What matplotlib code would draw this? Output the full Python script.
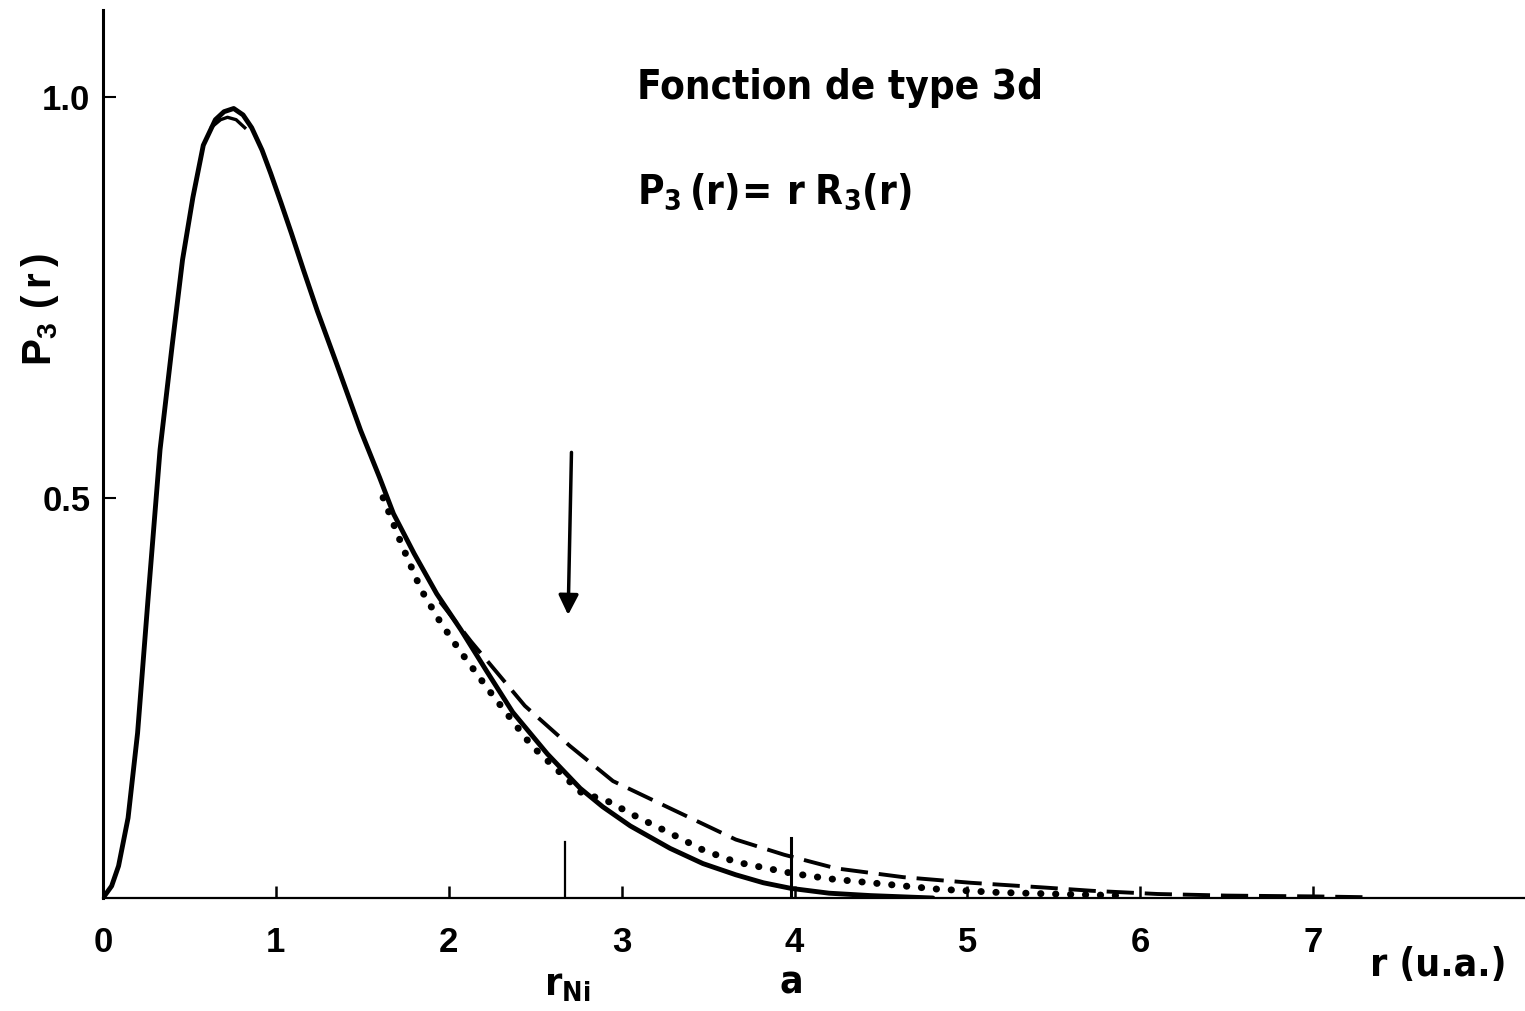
#radial function P3(r) = r R3(r) for a 3d orbital
import numpy as np
import matplotlib
matplotlib.use("Agg")
import matplotlib.pyplot as plt

#data
r_solid = [0, 0.05, 0.09, 0.145, 0.20, 0.26, 0.33, 0.40, 0.46, 0.52, 0.58, 0.65, 0.70,
           0.756, 0.81, 0.86, 0.92, 0.97, 1.03, 1.09, 1.16, 1.24, 1.35, 1.49, 1.60, 1.68,
           1.80, 1.93, 2.07, 2.22, 2.37, 2.57, 2.76, 2.89, 3.05, 3.28, 3.47, 3.66, 3.82,
           3.98, 4.2, 4.44, 4.8]
p_solid = [0, 0.015, 0.04, 0.10, 0.206, 0.372, 0.56, 0.69, 0.797, 0.875, 0.94, 0.972, 0.982,
           0.986, 0.978, 0.962, 0.934, 0.905, 0.868, 0.830, 0.784, 0.733, 0.668, 0.584, 0.525, 0.48,
           0.43, 0.38, 0.335, 0.283, 0.232, 0.180, 0.137, 0.114, 0.09, 0.062, 0.043, 0.029, 0.019,
           0.012, 0.006, 0.003, 0.0]

r_dot = [1.62, 1.73, 1.84, 1.95, 2.06, 2.23, 2.48, 2.77, 2.91, 3.10, 3.28, 3.47, 3.66, 3.98,
         4.2, 4.44, 4.83, 5.17, 5.5, 5.9]
p_dot = [0.50, 0.44, 0.385, 0.345, 0.31, 0.26, 0.19, 0.131, 0.122, 0.10, 0.081, 0.06, 0.045,
         0.031, 0.024, 0.019, 0.011, 0.007, 0.005, 0.003]

r_dash_top = [0.63, 0.68, 0.72, 0.77, 0.82]
p_dash_top = [0.963, 0.972, 0.975, 0.972, 0.962]
r_dash = [1.95, 2.13, 2.44, 2.70, 2.95, 3.28, 3.66, 3.94, 4.24, 4.63, 5.02, 5.45, 5.72, 6.1,
          6.5, 7.0, 7.3]
p_dash = [0.37, 0.32, 0.24, 0.19, 0.146, 0.112, 0.073, 0.054, 0.037, 0.026, 0.019, 0.013,
          0.009, 0.005, 0.003, 0.002, 0.001]

r_ni = 2.67
a_val = 3.98
x_ticks = [0, 1, 2, 3, 4, 5, 6, 7]
y_ticks = [0.5, 1.0]
y_ticklabels = ["0.5", "1.0"]

plt.rcParams["mathtext.fontset"] = "custom"
plt.rcParams["mathtext.rm"] = "DejaVu Sans:bold:stretch=condensed"
plt.rcParams["mathtext.bf"] = "DejaVu Sans:bold:stretch=condensed"
plt.rcParams["mathtext.sf"] = "Liberation Sans:bold"
narrow = ["DejaVu Sans"]
sans = ["Liberation Sans", "DejaVu Sans"]

fig = plt.figure(figsize=(15.25, 10.11), dpi=100)
ax = fig.add_axes([103/1525, 113/1011, 1-103/1525, 888/1011])
ax.set_xlim(0, 8.225)
ax.set_ylim(0, 1.109)

#curves
ax.plot(r_solid, p_solid, color="k", lw=3.5, solid_capstyle="round", solid_joinstyle="round")
ax.plot(r_dot, p_dot, color="k", lw=5.0, linestyle=(0, (0.05, 2.1)), dash_capstyle="round")
ax.plot(r_dash_top, p_dash_top, color="k", lw=2.4)
ax.plot(r_dash, p_dash, color="k", lw=2.8, linestyle=(0, (7.0, 2.8)))

#markers for r_Ni and a
ax.plot([r_ni, r_ni], [0, 0.07], color="k", lw=1.6)
ax.plot([a_val, a_val], [0, 0.075], color="k", lw=2.2)
ax.annotate("", xy=(2.69, 0.35), xytext=(2.71, 0.56),
            arrowprops=dict(arrowstyle="-|>", lw=2.5, color="k", mutation_scale=30))

#axes style
for s in ["top", "right"]:
    ax.spines[s].set_visible(False)
ax.spines["left"].set_linewidth(2.2)
ax.spines["bottom"].set_linewidth(1.6)
ax.set_xticks(x_ticks)
ax.set_xticklabels([str(v) for v in x_ticks], fontsize=25, fontweight="bold", family=sans)
ax.set_yticks(y_ticks)
ax.set_yticklabels(y_ticklabels, fontsize=25, fontweight="bold", family=sans)
ax.tick_params(axis="x", direction="in", length=9, width=1.8, pad=20)
ax.tick_params(axis="y", direction="in", length=9, width=1.5, pad=9)

#texts
fig.text(637/1525, 1-88/1011, "Fonction de type 3d", fontsize=29, fontweight="bold",
         family=narrow, fontstretch="condensed", va="center", ha="left")
fig.text(637/1525, 1-192/1011, r"$\mathrm{P_3\,(r)\!=\,r\;R_3(r)}$", fontsize=29,
         va="center", ha="left")
fig.text(40/1525, 1-310/1011, r"$\mathsf{P_3\ (\,r\,)}$", fontsize=29, rotation=90,
         va="center", ha="center")
fig.text(567/1525, 1-985/1011, r"$\mathrm{r_{Ni}}$", fontsize=28, va="center", ha="center")
fig.text(791/1525, 1-982/1011, "a", fontsize=28, fontweight="bold", family=narrow,
         fontstretch="condensed", va="center", ha="center")
fig.text(1438/1525, 1-965/1011, "r (u.a.)", fontsize=28, fontweight="bold", family=narrow,
         fontstretch="condensed", va="center", ha="center")

fig.savefig("out.png", dpi=100)
